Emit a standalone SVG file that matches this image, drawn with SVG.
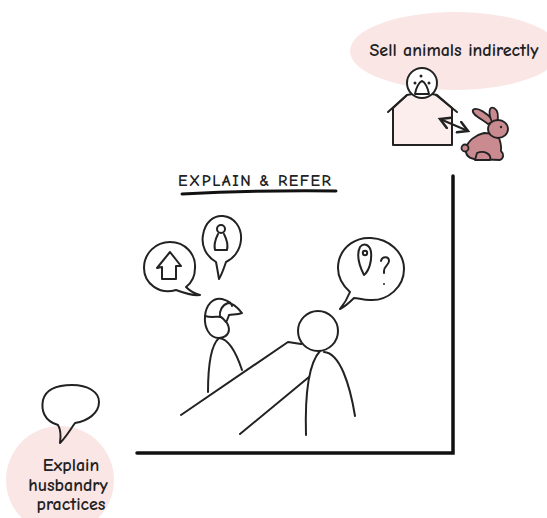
<svg xmlns="http://www.w3.org/2000/svg" width="547" height="518" viewBox="0 0 547 518">
  <style>
    .ink { fill: none; stroke: #222; stroke-width: 2; stroke-linecap: round; stroke-linejoin: round; }
    .thick { fill: none; stroke: #111; stroke-width: 3.5; stroke-linecap: round; }
    .blob { fill: #fbe6e6; stroke: none; }
    .label { font-family: "Comic Neue", "Lato", "Noto Sans", sans-serif; font-size: 18px; font-weight: bold; fill: #222; }
    .title { font-family: "Comic Neue", "Lato", "Noto Sans", sans-serif; font-size: 16px; font-weight: bold; fill: #222; letter-spacing: 1.5px; }
  </style>
  <defs>
    <marker id="tip" viewBox="0 0 10 10" refX="8" refY="5" markerWidth="7" markerHeight="7" orient="auto-start-reverse">
      <path d="M1,1 L8,5 L1,9" fill="none" stroke="#222" stroke-width="1.8" stroke-linecap="round"/>
    </marker>
  </defs>

  <!-- frame axes -->
  <g id="frame">
    <path class="thick" d="M137,453 L453,453 L453,176"/>
  </g>

  <!-- shop selling animals indirectly -->
  <g id="sell-indirectly">
    <ellipse class="blob" cx="455" cy="51" rx="105" ry="39"/>
    <text class="label" x="454" y="56" text-anchor="middle">Sell animals indirectly</text>
    <path class="ink" d="M393,108 L393,145 L452,145 L452,108 L437,95 L422,92 L407,95 Z" style="fill:#fdeeee"/>
    <path class="ink" d="M388,112 L407,95 M436,95 L457,112"/>
    <circle class="ink" cx="422" cy="83" r="15" style="fill:#fff"/>
    <path class="ink" d="M415,94 C416,88 419,82 422,81 C425,82 428,88 429,94 Z"/>
    <circle cx="415" cy="83" r="1.5" fill="#222"/>
    <circle cx="421" cy="76" r="1.5" fill="#222"/>
    <circle cx="429" cy="83" r="1.5" fill="#222"/>
    <path class="ink" d="M440,119 L468,131" marker-start="url(#tip)" marker-end="url(#tip)"/>
    <!-- rabbit -->
    <g fill="#c98a90" stroke="#222" stroke-width="1.8" stroke-linejoin="round">
      <path d="M488,124 C480,118 471,114 473,110 C477,106 488,114 494,121 Z"/>
      <path d="M492,122 C488,113 489,106 494,108 C499,111 498,119 497,123 Z"/>
      <path d="M484,133 C475,135 468,141 466,148 C465,154 468,158 474,159 L500,160 C504,158 504,154 501,151 C502,143 499,138 497,134 Z"/>
      <ellipse cx="498" cy="129" rx="10" ry="9"/>
      <circle cx="465" cy="148" r="3.5"/>
      <path d="M477,153 C484,150 492,154 490,160 L475,160 Z"/>
    </g>
    <circle cx="501" cy="127" r="1.2" fill="#222"/>
  </g>

  <!-- explain & refer scene -->
  <g id="explain-refer">
    <text class="title" x="178" y="186">EXPLAIN &amp; REFER</text>
    <path d="M182,194 Q260,190 336,191" fill="none" stroke="#111" stroke-width="3" stroke-linecap="round"/>
  </g>

  <g id="bubble-home">
    <path class="ink" d="M176,290 C160,295 144,284 144,268 C144,253 156,242 170,242 C185,242 196,254 195,268 C195,278 190,284 186,287 C190,291 196,294 200,295 C192,296 184,293 176,290 Z"/>
    <path class="ink" d="M162,279 L162,267 L157,268 L170,252 L181,266 L176,266 L176,279 Z"/>
  </g>

  <g id="bubble-person">
    <path class="ink" d="M216,262 C206,256 201,246 203,235 C205,222 214,215 223,216 C234,217 242,227 241,240 C240,251 233,259 226,262 C224,268 222,274 219,279 C218,273 217,267 216,262 Z"/>
    <circle class="ink" cx="221" cy="229" r="4" stroke-width="1.6"/>
    <path class="ink" stroke-width="1.6" d="M218,234 C215,240 214,246 215,250 L227,250 C228,246 227,240 224,234"/>
  </g>

  <g id="bubble-location">
    <path class="ink" d="M350,292 C340,283 336,272 339,260 C343,246 356,237 371,238 C389,239 404,252 404,269 C404,287 388,301 370,300 C363,300 358,298 354,298 C350,302 346,306 340,309 C345,303 348,297 350,292 Z"/>
    <path class="ink" stroke-width="1.6" d="M364,275 C359,265 356,255 360,247 C364,242 370,245 371,252 C372,261 369,271 364,275 Z"/>
    <circle class="ink" cx="365" cy="253" r="2.2" stroke-width="1.4"/>
    <path class="ink" stroke-width="1.6" d="M381,261 C382,256 389,256 389,261 C389,265 384,266 384,271 L384,273"/>
    <circle cx="384" cy="284" r="1" fill="#222"/>
  </g>

  <g id="person-cap">
    <path class="ink" d="M227,323 C231,330 229,337 219,338 C209,338 204,327 205,316 C206,305 213,297 222,299 C229,301 232,304 232,306"/>
    <path class="ink" d="M205,316 C212,318 218,316 221,317 C223,318 224,320 226,322"/>
    <path class="ink" d="M220,317 C219,311 222,305 228,303 C233,303 238,308 242,313 C237,315 232,314 229,315 C228,318 227,321 226,322"/>
    <path class="ink" d="M208,392 C208,370 210,346 219,338 C230,339 237,355 242,370"/>
  </g>

  <g id="person-round">
    <circle class="ink" cx="318" cy="331" r="20"/>
    <path class="ink" d="M306,435 C305,400 308,364 320,351 M324,352 C340,353 350,385 355,416"/>
  </g>

  <!-- table edges -->
  <g id="connectors">
    <path class="ink" d="M181,415 L288,342 L301,344"/>
    <path class="ink" d="M240,434 L309,377"/>
  </g>

  <!-- husbandry practices -->
  <g id="husbandry">
    <circle class="blob" cx="60" cy="480" r="54"/>
    <path class="ink" d="M58,425 C44,421 41,410 43,400 C46,389 58,385 72,385 C88,385 99,392 99,402 C99,413 88,421 75,423 C70,430 66,437 60,443 C61,436 61,430 58,425 Z"/>
    <text class="label" text-anchor="middle" x="71" y="471">Explain</text>
    <text class="label" text-anchor="middle" x="68" y="491">husbandry</text>
    <text class="label" text-anchor="middle" x="71" y="510">practices</text>
  </g>
</svg>
